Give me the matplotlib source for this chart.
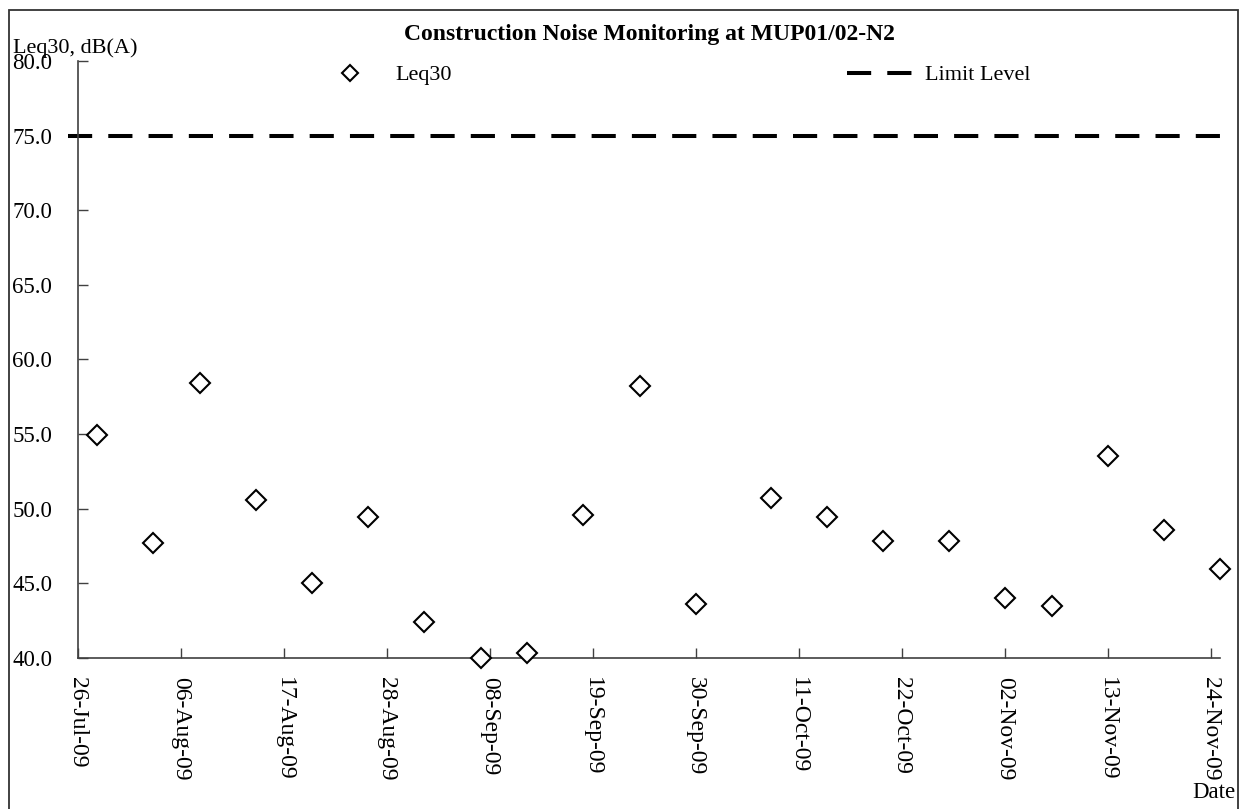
import pandas as pd
import matplotlib
matplotlib.use('Agg')
import matplotlib.pyplot as plt
import matplotlib.dates as mdates
from matplotlib.patches import Rectangle

plt.rcParams['font.family'] = ['Liberation Serif', 'DejaVu Serif']

dates = pd.to_datetime([
    '2009-07-28', '2009-08-03', '2009-08-08', '2009-08-14', '2009-08-20',
    '2009-08-26', '2009-09-01', '2009-09-07', '2009-09-12', '2009-09-18',
    '2009-09-24', '2009-09-30', '2009-10-08', '2009-10-14', '2009-10-20',
    '2009-10-27', '2009-11-02', '2009-11-07', '2009-11-13', '2009-11-19',
    '2009-11-25'])
leq30 = [54.95, 47.72, 58.42, 50.58, 44.99, 49.46, 42.37, 40.0, 40.3, 49.58,
         58.19, 43.6, 50.70, 49.46, 47.83, 47.83, 43.99, 43.49, 53.54, 48.57,
         45.95]
limit_level = 75.0
tick_dates = pd.date_range('2009-07-26', '2009-11-24', freq='11D')
y_ticks = [40, 45, 50, 55, 60, 65, 70, 75, 80]

fig = plt.figure(figsize=(12.42, 8.09), dpi=100)
ax = fig.add_axes([0.0628, 0.187, 0.9195, 0.7376])

ax.plot(dates, leq30, linestyle='none', marker='D', markersize=10,
        markerfacecolor='white', markeredgecolor='black', markeredgewidth=1.5,
        label='Leq30', clip_on=False, zorder=3)
ax.axhline(limit_level, xmin=-0.009, xmax=1.011, color='black', linewidth=2.9,
           dashes=(6, 4), label='Limit Level', clip_on=False)

ax.set_xlim(pd.Timestamp('2009-07-26'), pd.Timestamp('2009-11-25'))
ax.set_ylim(40, 80)
ax.set_xticks(tick_dates)
ax.xaxis.set_major_formatter(mdates.DateFormatter('%d-%b-%y'))
ax.set_yticks(y_ticks)
ax.set_yticklabels(['%.1f' % v for v in y_ticks])
ax.tick_params(axis='x', direction='in', length=7, width=1, color='#404040',
               labelsize=17, labelrotation=-90, pad=14)
ax.tick_params(axis='y', direction='in', length=7, width=1, color='#404040',
               labelsize=16.5, pad=18.5)
for lab in ax.get_xticklabels():
    lab.set_verticalalignment('top')
    lab.set_horizontalalignment('center')

for s in ['top', 'right']:
    ax.spines[s].set_visible(False)
for s in ['left', 'bottom']:
    ax.spines[s].set_color('#404040')
    ax.spines[s].set_linewidth(1.2)

ax.set_title('Construction Noise Monitoring at MUP01/02-N2', fontsize=17,
             fontweight='bold', pad=15)
fig.text(0.0105, 0.940, 'Leq30, dB(A)', fontsize=16, va='center', ha='left')
fig.text(0.995, 0.021, 'Date', fontsize=16.5, va='center', ha='right')

leg = ax.legend(loc='upper left', bbox_to_anchor=(0.1926, 1.027), ncol=2,
                frameon=False, fontsize=16, markerscale=0.8,
                handlelength=2.9, handletextpad=0.58, columnspacing=17.8)

fig.patches.append(Rectangle((9 / 1242, -0.02), 1229 / 1242, 1.02 - 10 / 809,
                             transform=fig.transFigure, fill=False,
                             edgecolor='#333333', linewidth=1.3))

fig.savefig('out.png', dpi=100)
